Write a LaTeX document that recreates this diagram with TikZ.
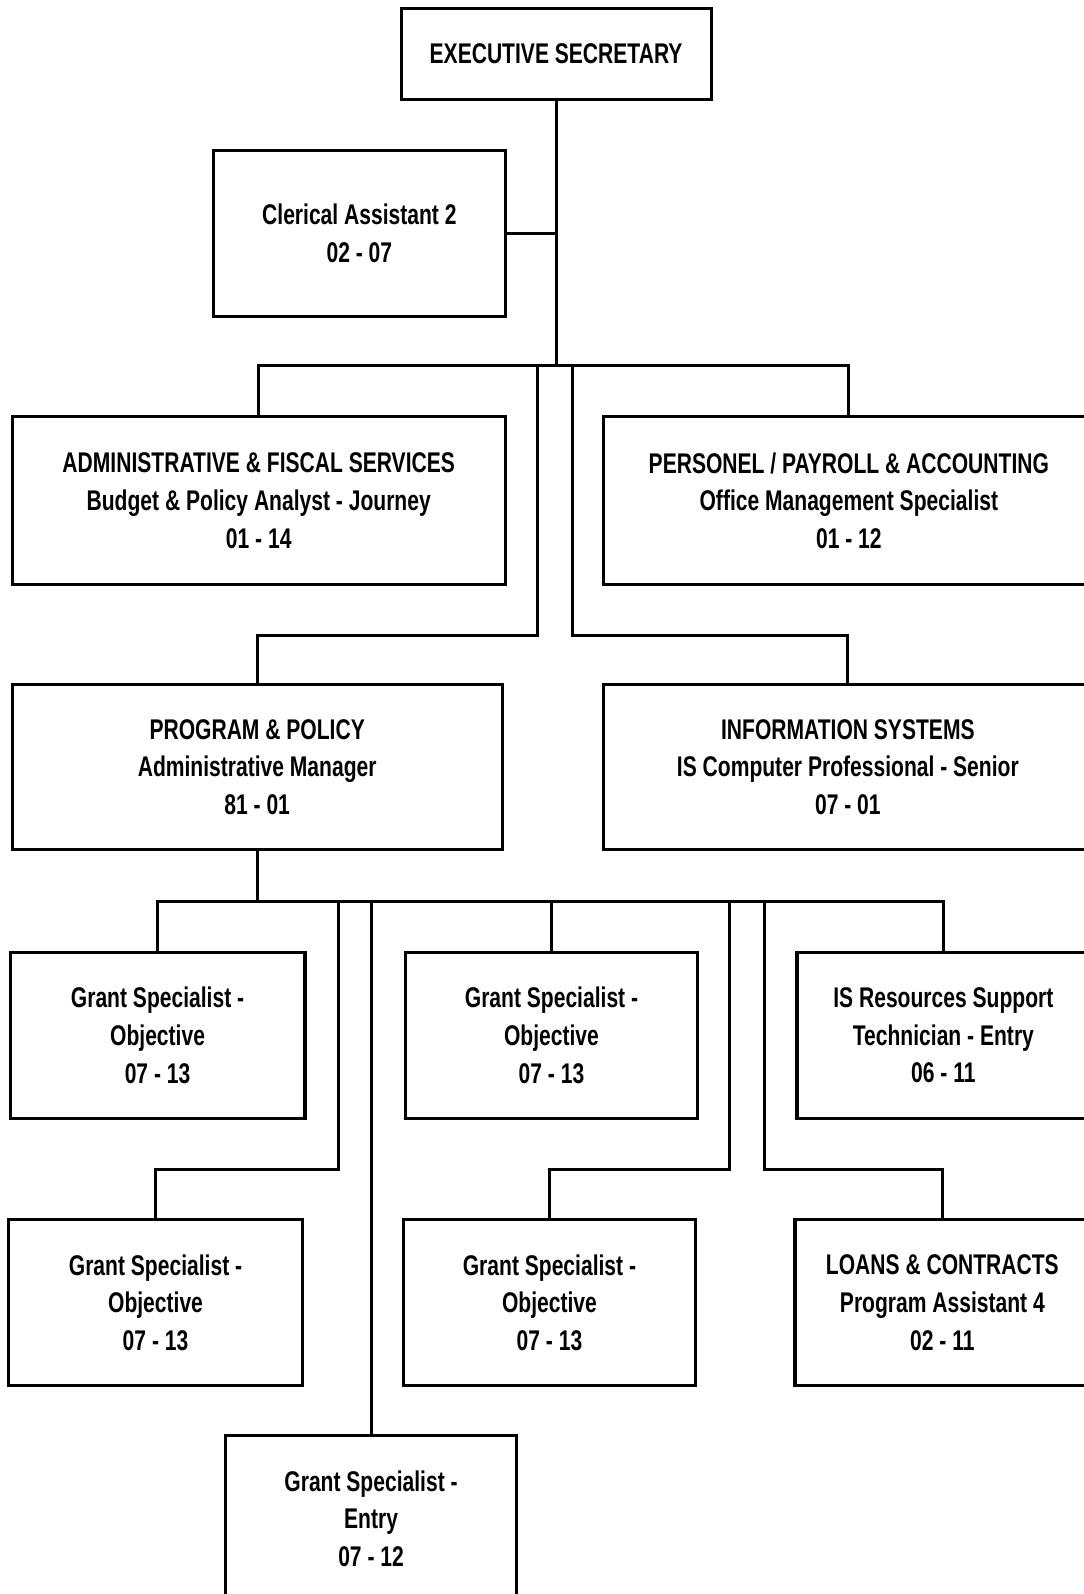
\documentclass[tikz,border=0pt]{standalone}
\usepackage{fontspec}
\newfontfamily\chartfont{Liberation Sans}[FakeStretch=0.74]

\begin{document}
\begin{tikzpicture}[x=0.5pt,y=-0.5pt]
\tikzstyle{post} = [draw, line width=1.5pt, align=center, inner sep=0pt, font=\chartfont\bfseries\fontsize{14}{18.5}\selectfont]
\tikzstyle{link} = [line width=1.5pt]

\useasboundingbox (0,0) rectangle (1066,1568);

%Top of the chart and the clerical assistant
\node[post, minimum width=152.5pt, minimum height=45pt] (exec) at (547,53) {EXECUTIVE SECRETARY};
\node[post, minimum width=143.5pt, minimum height=81.5pt] (clerk) at (353.5,229.5) {Clerical Assistant 2\\02 - 07};

%Second and third rows
\node[post, minimum width=242.5pt, minimum height=82.5pt] (admin) at (254.5,492.5) {ADMINISTRATIVE \& FISCAL SERVICES\\Budget \& Policy Analyst - Journey\\01 - 14};
\node[post, minimum width=241pt, minimum height=82.5pt] (pers) at (835,492.5) {PERSONEL / PAYROLL \& ACCOUNTING\\Office Management Specialist\\01 - 12};
\node[post, minimum width=241pt, minimum height=81.5pt] (prog) at (253,754.5) {PROGRAM \& POLICY\\Administrative Manager\\81 - 01};
 \node[post, minimum width=240pt, minimum height=81.5pt] (info) at (834,754.5) {INFORMATION SYSTEMS\\IS Computer Professional - Senior\\07 - 01};

%Staff under program & policy
\node[post, minimum width=145pt, minimum height=81.5pt] (gs1) at (155,1018.5) {Grant Specialist -\\Objective\\07 - 13};
\node[post, minimum width=143.5pt, minimum height=81.5pt] (gs2) at (542.5,1018.5) {Grant Specialist -\\Objective\\07 - 13};
\node[post, minimum width=144pt, minimum height=81.5pt] (isr) at (928,1018.5) {IS Resources Support\\Technician - Entry\\06 - 11};
\node[post, minimum width=145pt, minimum height=81.5pt] (gs3) at (153,1281.5) {Grant Specialist -\\Objective\\07 - 13};
\node[post, minimum width=143.5pt, minimum height=81.5pt] (gs4) at (540.5,1281.5) {Grant Specialist -\\Objective\\07 - 13};
\node[post, minimum width=145pt, minimum height=81.5pt] (loans) at (927,1281.5) {LOANS \& CONTRACTS\\Program Assistant 4\\02 - 11};
\node[post, minimum width=143.5pt, minimum height=82pt] (gse) at (365,1494) {Grant Specialist -\\Entry\\07 - 12};

%Lines from the executive secretary
\coordinate (top) at (547,360);
\draw[link] (exec.south) -- (top);
\draw[link] (clerk.east) -- (clerk.east -| top);
\draw[link] (admin.north) |- (top) -| (pers.north);

%Two lines down to the third row
\coordinate (splitL) at (529,360);
\coordinate (splitR) at (563,360);
\coordinate (turnL) at (529,625);
\coordinate (turnR) at (563,625);
\draw[link] (splitL) -- (turnL) -| (prog.north);
\draw[link] (splitR) -- (turnR) -| (info.north);

%Bus under program & policy
\coordinate (low) at (253,887);
\draw[link] (prog.south) -- (low);
\draw[link] (gs1.north) |- (low) -| (isr.north);
\draw[link] (gs2.north) -- (gs2.north |- low);
\draw[link] (gse.north) -- (gse.north |- low);

%Lines to the fifth row
\coordinate (d1) at (333,887);
\coordinate (k1) at (333,1150);
\draw[link] (d1) -- (k1) -| (gs3.north);
\coordinate (d2) at (718,887);
\coordinate (k2) at (718,1150);
\draw[link] (d2) -- (k2) -| (gs4.north);
\coordinate (d3) at (752,887);
\coordinate (k3) at (752,1150);
\draw[link] (d3) -- (k3) -| (loans.north);

\end{tikzpicture}
\end{document}
